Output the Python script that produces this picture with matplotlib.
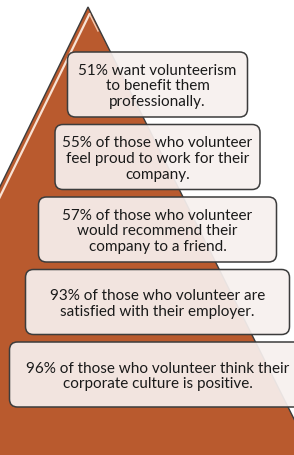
import matplotlib
matplotlib.use("Agg")
import matplotlib.pyplot as plt
from matplotlib.patches import Polygon, FancyBboxPatch

# statements, from the top of the pyramid to the bottom
statements = [
    "51% want volunteerism\nto benefit them\nprofessionally.",
    "55% of those who volunteer\nfeel proud to work for their\ncompany.",
    "57% of those who volunteer\nwould recommend their\ncompany to a friend.",
    "93% of those who volunteer are\nsatisfied with their employer.",
    "96% of those who volunteer think their\ncorporate culture is positive.",
]

# layout (pixels)
W, H = 294, 456
apex = (88, 8)
box_widths = [180, 205, 238, 264, 296]
box_top0, box_step, box_h = 53, 72.5, 65
center_x = 157.5

fig = plt.figure(figsize=(W / 100, H / 100), dpi=100)
ax = fig.add_axes([0, 0, 1, 1])
ax.set_xlim(0, W)
ax.set_ylim(H, 0)
ax.axis("off")

# pyramid
base_y = 520
pyr = Polygon([apex, (apex[0] - 0.49 * (base_y - apex[1]), base_y),
               (apex[0] + 0.5 * (base_y - apex[1]), base_y)],
              closed=True, facecolor="#B95A2E", edgecolor="#3c3c3c", lw=1.0, zorder=1)
ax.add_patch(pyr)
# glossy highlight on the left edge
ax.plot([apex[0] + 1.5, apex[0] + 1.5 - 0.49 * 190], [apex[1] + 7, apex[1] + 197],
        color="#f8e2d4", lw=1.6, zorder=2, solid_capstyle="round")
ax.plot([apex[0] + 2, apex[0] + 10], [apex[1] + 8, apex[1] + 24],
        color="#f3c9b0", lw=1.0, zorder=2)

for i, (txt, w) in enumerate(zip(statements, box_widths)):
    top = box_top0 + i * box_step
    x0 = center_x - w / 2
    box = FancyBboxPatch((x0, top), w, box_h,
                         boxstyle="round,pad=0,rounding_size=8",
                         facecolor="#F7F0EE", alpha=0.93, edgecolor="none", zorder=3)
    ax.add_patch(box)
    border = FancyBboxPatch((x0, top), w, box_h,
                            boxstyle="round,pad=0,rounding_size=8",
                            facecolor="none", edgecolor="#3c3c3c", lw=1.1, zorder=4)
    ax.add_patch(border)
    ax.text(center_x, top + box_h / 2 + 1, txt,
            ha="center", va="center", multialignment="center",
            fontsize=11, family="Lato", color="#1a1a1a", linespacing=1.16, zorder=5)

fig.savefig("out.png", dpi=100)
